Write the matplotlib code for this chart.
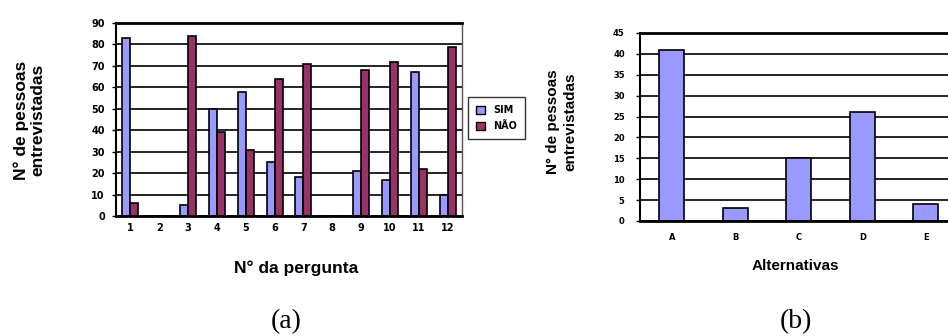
import matplotlib
matplotlib.use("Agg")
import matplotlib.pyplot as plt
import numpy as np
from matplotlib.patches import Patch

# ---- data ----
perguntas = ["1", "2", "3", "4", "5", "6", "7", "8", "9", "10", "11", "12"]
sim = [83, 0, 5, 50, 58, 25, 18, 0, 21, 17, 67, 10]
nao = [6, 0, 84, 39, 31, 64, 71, 0, 68, 72, 22, 79]
series_labels = ["SIM", "NÃO"]

alternativas = ["A", "B", "C", "D", "E"]
alt_valores = [41, 3, 15, 26, 4]

COL_SIM = "#9999FF"
COL_NAO = "#993366"

fig = plt.figure(figsize=(9.48, 3.36), dpi=100)

tickfont = dict(family="DejaVu Sans", weight="bold")
labfont = "Liberation Sans"


def style_axes(ax, ymax, ystep, tick_size, xpad, ypad):
    ax.set_ylim(0, ymax)
    ax.set_yticks(np.arange(0, ymax + 1, ystep))
    ax.yaxis.grid(True, color="black", linewidth=1.2)
    ax.set_axisbelow(True)
    for s in ["top", "bottom", "left"]:
        ax.spines[s].set_color("black")
    ax.spines["top"].set_linewidth(2.0)
    ax.spines["bottom"].set_linewidth(2.0)
    ax.spines["left"].set_linewidth(1.5)
    ax.spines["right"].set_color("#555555")
    ax.spines["right"].set_linewidth(1.0)
    ax.tick_params(axis="x", length=0, pad=xpad)
    ax.tick_params(axis="y", length=3, width=1.0, pad=ypad, direction="out")
    for lab in ax.get_xticklabels() + ax.get_yticklabels():
        lab.set_fontfamily(tickfont["family"])
        lab.set_fontweight("bold")
        lab.set_fontsize(tick_size)


# ---- chart (a) ----
axa = fig.add_axes([116 / 948, 1 - 216 / 336, 346 / 948, 193 / 336])
x = np.arange(1, len(perguntas) + 1)
w = 0.28
axa.bar(x - w / 2, sim, width=w, color=COL_SIM, edgecolor="black", linewidth=1.2, label=series_labels[0])
axa.bar(x + w / 2, nao, width=w, color=COL_NAO, edgecolor="black", linewidth=1.2, label=series_labels[1])
axa.set_xlim(0.5, len(perguntas) + 0.5)
axa.set_xticks(x)
axa.set_xticklabels(perguntas)
style_axes(axa, 90, 10, 7, 5, 5)

handles = [Patch(facecolor=COL_SIM, edgecolor="black", linewidth=1.0, label=series_labels[0]),
           Patch(facecolor=COL_NAO, edgecolor="black", linewidth=1.0, label=series_labels[1])]
leg = fig.legend(handles=handles, loc="upper left",
                 bbox_to_anchor=(468 / 948, 1 - 97 / 336),
                 frameon=True, fancybox=False, edgecolor="black",
                 prop=dict(family="DejaVu Sans", weight="bold", size=7),
                 handlelength=0.9, handleheight=0.9, handletextpad=0.8,
                 borderpad=0.85, labelspacing=0.6, borderaxespad=0)
leg.get_frame().set_linewidth(1.0)

fig.text(29 / 948, 1 - 120 / 336, "N° de pessoas\nentrevistadas", rotation=90,
         ha="center", va="center", fontsize=12.5, fontweight="bold",
         family=labfont, linespacing=1.1, multialignment="center")
fig.text(296 / 948, 1 - 268 / 336, "N° da pergunta", ha="center", va="center",
         fontsize=12.5, fontweight="bold", family=labfont)
fig.text(286 / 948, 1 - 322 / 336, "(a)", ha="center", va="center",
         fontsize=20, family="Liberation Serif")

# ---- chart (b) ----
axb = fig.add_axes([640 / 948, 1 - 221 / 336, 317.5 / 948, 188 / 336])
xb = np.arange(len(alternativas))
axb.bar(xb, alt_valores, width=0.4, color=COL_SIM, edgecolor="black", linewidth=1.2)
axb.set_xlim(-0.5, len(alternativas) - 0.5)
axb.set_xticks(xb)
axb.set_xticklabels(alternativas)
style_axes(axb, 45, 5, 6, 9, 8)

fig.text(562 / 948, 1 - 122 / 336, "N° de pessoas\nentrevistadas", rotation=90,
         ha="center", va="center", fontsize=11, fontweight="bold",
         family=labfont, linespacing=1.3, multialignment="center")
fig.text(795 / 948, 1 - 266 / 336, "Alternativas", ha="center", va="center",
         fontsize=11, fontweight="bold", family=labfont)
fig.text(796 / 948, 1 - 322 / 336, "(b)", ha="center", va="center",
         fontsize=20, family="Liberation Serif")

fig.savefig("out.png", dpi=100)
